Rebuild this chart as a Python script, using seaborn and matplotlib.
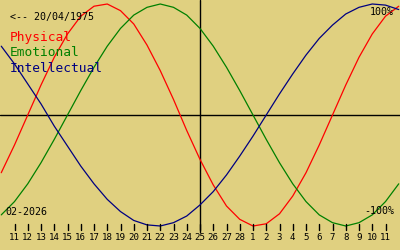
import matplotlib
matplotlib.use("Agg")
import matplotlib.pyplot as plt
import seaborn as sns
import pandas as pd

# Calendar days shown (Feb 10 .. Mar 12, 2026); centre = 25 Feb
days = [10, 11, 12, 13, 14, 15, 16, 17, 18, 19, 20, 21, 22, 23, 24, 25, 26, 27, 28,
        1, 2, 3, 4, 5, 6, 7, 8, 9, 10, 11, 12]
physical = [-0.52, -0.27, 0.00, 0.27, 0.52, 0.73, 0.89, 0.98, 1.00, 0.94, 0.82, 0.63, 0.40, 0.14,
            -0.14, -0.40, -0.63, -0.82, -0.94, -1.00, -0.98, -0.89, -0.73, -0.52, -0.27, 0.00,
            0.27, 0.52, 0.73, 0.89, 0.98]
emotional = [-0.90, -0.78, -0.62, -0.43, -0.22, 0.00, 0.22, 0.43, 0.62, 0.78, 0.90, 0.97, 1.00,
             0.97, 0.90, 0.78, 0.62, 0.43, 0.22, 0.00, -0.22, -0.43, -0.62, -0.78, -0.90, -0.97,
             -1.00, -0.97, -0.90, -0.78, -0.62]
intellectual = [0.62, 0.46, 0.28, 0.10, -0.10, -0.28, -0.46, -0.62, -0.76, -0.87, -0.95, -0.99,
                -1.00, -0.97, -0.91, -0.81, -0.69, -0.54, -0.37, -0.19, 0.00, 0.19, 0.37, 0.54,
                0.69, 0.81, 0.91, 0.97, 1.00, 0.99, 0.95]
series_names = ["Physical", "Emotional", "Intellectual"]
series_colors = ["#FF0000", "#008000", "#000080"]
birth_label = "<-- 20/04/1975"
month_label = "02-2026"

BG = "#E0D080"
MONO = "DejaVu Sans Mono"

idx = list(range(len(days)))
df = pd.DataFrame({
    "x": idx * 3,
    "v": physical + emotional + intellectual,
    "s": [series_names[0]] * len(days) + [series_names[1]] * len(days) + [series_names[2]] * len(days),
})

sns.set_style("white")
plt.rcParams["font.family"] = [MONO, "DejaVu Sans"]

fig = plt.figure(figsize=(4, 2.5), dpi=100)
fig.patch.set_facecolor(BG)
ax = fig.add_axes([0, 0, 1, 1])
ax.set_facecolor(BG)

# pixel mapping: x px = 200 + 13.25*(i-15); y px = 115 - 111*v
center = 15
step = 13.25
x0 = center - 200 / step
ax.set_xlim(x0, center + 200 / step)
ax.set_ylim((115 - 250) / 111, 115 / 111)

def ypx(p):
    return (115 - p) / 111

def xpx(p):
    return x0 + p / step

ax.axhline(0, color="black", lw=1.0)
ax.plot([center, center], [ypx(0), ypx(232)], color="black", lw=1.0)

sns.lineplot(data=df, x="x", y="v", hue="s", palette=dict(zip(series_names, series_colors)),
             hue_order=series_names, lw=0.9, legend=False, ax=ax, estimator=None)

# day ticks
for i in idx[1:-1]:
    ax.plot([i, i], [ypx(224), ypx(230)], color="black", lw=1.0)
    ax.text(i, ypx(237.5), str(days[i]), ha="center", va="center", fontsize=6.6,
            family=MONO, color="black")

ax.text(xpx(10), ypx(17), birth_label, ha="left", va="center", fontsize=7.2,
        family=MONO, color="black")
for k, (n, c) in enumerate(zip(series_names, series_colors)):
    ax.text(xpx(10), ypx(38 + 15 * k), n, ha="left", va="center",
            fontsize=9.3, family=MONO, color=c)
ax.text(xpx(5), ypx(212), month_label, ha="left", va="center",
        fontsize=7.2, family=MONO, color="black")
ax.text(xpx(394), ypx(12), "100%", ha="right", va="center",
        fontsize=7.2, family=MONO, color="black")
ax.text(xpx(394), ypx(211), "-100%", ha="right", va="center",
        fontsize=7.2, family=MONO, color="black")

ax.set_axis_off()
fig.savefig("out.png", dpi=100, facecolor=BG)
